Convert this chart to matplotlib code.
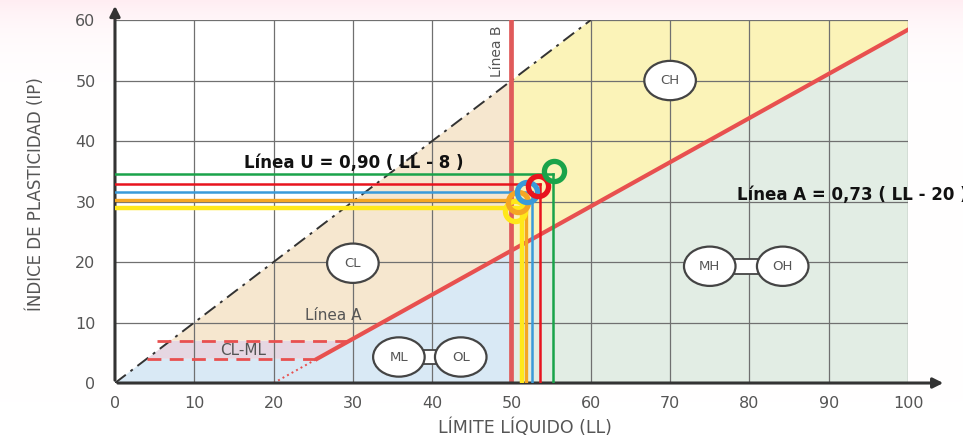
import matplotlib.pyplot as plt
from matplotlib.patches import Polygon, Ellipse, Rectangle
import numpy as np

# --- samples (LL, IP) ---
sample_colors = ["#ffe81a", "#f5a623", "#3a9ad9", "#e8141e", "#1aa34a"]
sample_ll = [51.3, 51.8, 52.6, 53.6, 55.2]
sample_ip = [29.0, 30.2, 31.6, 32.9, 34.5]
ring_ll = [50.5, 50.8, 51.9, 53.3, 55.3]
ring_ip = [28.4, 30.0, 31.5, 32.5, 35.0]

xticks = [0, 10, 20, 30, 40, 50, 60, 70, 80, 90, 100]
yticks = [0, 10, 20, 30, 40, 50, 60]

def linea_a(ll):
    return 0.73 * (ll - 20)

fig = plt.figure(figsize=(9.63, 4.4), dpi=100)

# faint pink tint at the top of the page
bg = fig.add_axes([0, 0, 1, 1], zorder=-1)
grad = np.linspace(0, 1, 200).reshape(-1, 1)
bg.imshow(np.dstack([np.ones_like(grad), 1 - 0.07 * grad ** 14, 1 - 0.05 * grad ** 14]),
          aspect="auto", origin="lower", extent=[0, 1, 0, 1])
bg.axis("off")

ax = fig.add_axes([0.1194, 0.1295, 0.8235, 0.825])
ax.set_xlim(0, 100)
ax.set_ylim(0, 60)
ax.patch.set_facecolor("white")

# --- zones ---
a50 = linea_a(50)
a_cl = 7 / 0.73 + 20
a_ml = 4 / 0.73 + 20
ax.add_patch(Polygon([(0, 0), (4, 4), (a_ml, 4), (50, a50), (50, 0)], color="#d9e9f5", lw=0, zorder=0))
ax.add_patch(Polygon([(4, 4), (7, 7), (a_cl, 7), (a_ml, 4)], color="#e6d7e2", lw=0, zorder=0))
ax.add_patch(Polygon([(7, 7), (50, 50), (50, a50), (a_cl, 7)], color="#f6e7cf", lw=0, zorder=0))
ax.add_patch(Polygon([(50, a50), (50, 50), (60, 60), (100, 60), (100, linea_a(100))], color="#fbf3b8", lw=0, zorder=0))
ax.add_patch(Polygon([(50, 0), (50, a50), (100, linea_a(100)), (100, 0)], color="#e2ede4", lw=0, zorder=0))

# grid
for x in xticks[1:]:
    ax.plot([x, x], [0, 60], color="#707070", lw=0.9, zorder=1)
for y in yticks[1:]:
    ax.plot([0, 100], [y, y], color="#707070", lw=0.9, zorder=1)

# dash-dot boundary
ax.plot([0, 60], [0, 60], color="#333333", lw=1.4, dashes=[7, 3, 1.5, 3], zorder=2)

# Linea A
ax.plot([a_ml, 100], [4, linea_a(100)], color="#e8504f", lw=3, zorder=3)
ax.plot([20, a_ml], [0, 4], color="#e8504f", lw=1.4, ls=":", zorder=3)
ax.plot([4, a_ml], [4, 4], color="#e8504f", lw=2, dashes=[5, 3], zorder=3)
ax.plot([5.3, a_cl], [7, 7], color="#e8504f", lw=2, dashes=[5, 3], zorder=3)

# Linea B
ax.plot([50, 50], [0, 60], color="#e05a5a", lw=3.4, zorder=3)

# --- sample lines and rings ---
widths = [3.2, 2.4, 1.8, 1.8, 1.8]
for c, w, ll, ip in zip(sample_colors, widths, sample_ll, sample_ip):
    ax.plot([0, ll], [ip, ip], color=c, lw=w, zorder=4)
    ax.plot([ll, ll], [0, ip], color=c, lw=w, zorder=4)
for c, ll, ip in zip(sample_colors, ring_ll, ring_ip):
    ax.plot(ll, ip, marker="o", ms=14.5, mfc="none", mec=c, mew=3.8, zorder=5)

# --- group symbols ---
def bubble(x, y, txt):
    ax.add_patch(Ellipse((x, y), 6.5, 6.5, fc="white", ec="#444444", lw=1.6, zorder=6))
    ax.text(x, y, txt, ha="center", va="center", fontsize=9.5, color="#555555", zorder=7)

def pair(x1, x2, y, t1, t2):
    ax.add_patch(Rectangle((x1 + 2.5, y - 1.2), x2 - x1 - 5, 2.4, fc="white", ec="#444444", lw=1.3, zorder=5))
    bubble(x1, y, t1)
    bubble(x2, y, t2)

bubble(30, 19.8, "CL")
bubble(70, 50, "CH")
pair(35.8, 43.6, 4.3, "ML", "OL")
pair(75.0, 84.2, 19.3, "MH", "OH")

ax.text(16.2, 5.3, "CL-ML", ha="center", va="center", fontsize=11, color="#555555", zorder=6)
ax.text(27.5, 11.2, "Línea A", ha="center", va="center", fontsize=11, color="#555555", zorder=6)
ax.text(48.2, 54.8, "Línea B", ha="center", va="center", rotation=90, fontsize=10, color="#555555", zorder=6)
ax.text(16.3, 34.8, "Línea U = 0,90 ( LL - 8 )", ha="left", va="bottom", fontsize=12,
        fontweight="bold", color="#111111", zorder=6)
ax.text(78.4, 31.1, "Línea A = 0,73 ( LL - 20 )", ha="left", va="center", fontsize=12,
        fontweight="bold", color="#111111", zorder=6, clip_on=False)

# --- axes with arrows ---
for s in ax.spines.values():
    s.set_visible(False)
ax.annotate("", xy=(104.8, 0), xytext=(0, 0), annotation_clip=False,
            arrowprops=dict(arrowstyle="-|>", color="#333333", lw=2.2, mutation_scale=15))
ax.annotate("", xy=(0, 62.8), xytext=(0, 0), annotation_clip=False,
            arrowprops=dict(arrowstyle="-|>", color="#333333", lw=2.2, mutation_scale=15))

ax.set_xticks(xticks)
ax.set_yticks(yticks)
ax.tick_params(length=0, labelsize=11.5, labelcolor="#555555")
ax.tick_params(axis="x", pad=9)
ax.tick_params(axis="y", pad=14)
ax.set_xlabel("LÍMITE LÍQUIDO (LL)", fontsize=12.5, color="#555555")
ax.set_ylabel("ÍNDICE DE PLASTICIDAD (IP)", fontsize=12, color="#555555")
ax.xaxis.set_label_coords(0.517, -0.099)
ax.yaxis.set_label_coords(-0.088, 0.52)

fig.savefig("out.png", dpi=100)
